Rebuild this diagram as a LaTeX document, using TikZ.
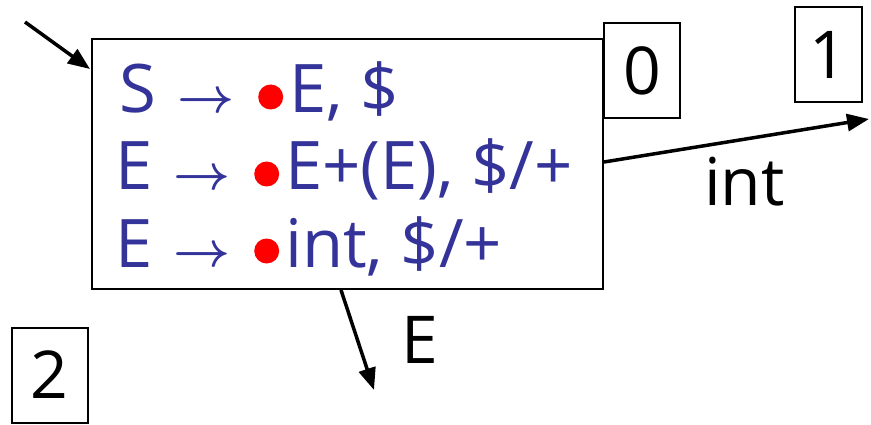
\documentclass[tikz,border=0pt]{standalone}
\usepackage{fontspec}
\setmainfont{Open Sans}
\usepackage{xcolor}
\usepackage{tikz}
\usetikzlibrary{arrows.meta,positioning,calc}
\definecolor{itemblue}{HTML}{333399}
\definecolor{dotred}{HTML}{FF0000}
\newcommand{\pdot}{\tikz[baseline=0pt]\fill[dotred] (0,16pt) circle (12.5pt);}
\newcommand{\lritem}[2]{\makebox[58pt][l]{#1}\resizebox{57pt}{!}{$\boldsymbol{\rightarrow}$}%
  \hspace{24pt}\pdot\hspace{6pt}#2}
\usepackage{amsmath}

\begin{document}
\begin{tikzpicture}[x=1pt,y=-1pt,
  statebox/.style={draw,line width=2pt,inner sep=0pt},
  numbox/.style={draw,line width=2pt,inner sep=0pt,minimum width=76pt,
                 minimum height=95pt,font=\fontsize{66}{70}\selectfont},
  item/.style={anchor=base west,inner sep=0pt,text=itemblue,
               font=\fontsize{67}{70}\selectfont},
  arr/.style={line width=3.5pt,-{Triangle[length=22pt,width=17pt]}},
  lbl/.style={inner sep=0pt,font=\fontsize{66}{70}\selectfont}
]
  \useasboundingbox (0,0) rectangle (871,425);
  \node[statebox,minimum width=511pt,minimum height=250pt] (s0) at (347.5,164) {};
  \node[item] (l1) at (119,113) {\lritem{S}{E, \$}};
  \node[item] (l2) at (115,190) {\lritem{E}{E+(E), \$/+}};
  \node[item] (l3) at (115,267) {\lritem{E}{int, \$/+}};
  \node[numbox] (n0) at (642,71) {0};
  \node[numbox,minimum width=67pt] (n1) at (828.5,55) {1};
  \node[numbox] (n2) at (49.5,375) {2};
  % transitions
  \coordinate (start) at (25,22);
  \coordinate (to1) at (869,119);
  \coordinate (to2) at (374,390);
  \draw[arr] (start) -- ($(s0.north west)+(-1,31)$);
  \draw[arr] ($(s0.south west)+(250,0)$) -- node[lbl,pos=0.5,right=42pt] (lE) {E} (to2);
  \draw[arr] ($(s0.north east)+(0,124)$) -- node[lbl,pos=0.53,below=16pt] (lint) {int} (to1);
\end{tikzpicture}
\end{document}
